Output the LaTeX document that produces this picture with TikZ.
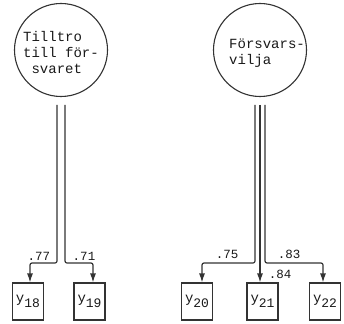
\documentclass[tikz,border=0pt]{standalone}
\usepackage{fontspec}
\setmonofont{Liberation Mono}
\usetikzlibrary{arrows.meta}
\begin{document}
\begin{tikzpicture}[x=1pt,y=-1pt,
  ink/.style={draw=black!80, line width=1.1pt},
  latent/.style={circle, ink, minimum size=93pt, inner sep=0pt},
  ltext/.style={font=\ttfamily\fontsize{14}{16}\selectfont, text=black!90, align=left, inner sep=0pt},
  obs/.style={rectangle, ink, minimum width=31pt, minimum height=37pt, inner sep=0pt,
    font=\ttfamily\fontsize{14}{16}\selectfont, text=black!90},
  conn/.style={draw=black!80, line width=1.2pt, rounded corners=2pt, -{Latex[length=9pt,width=6pt]}},
  lbl/.style={font=\ttfamily\fontsize{12.5}{14}\selectfont, text=black!90, inner sep=0pt}]
\useasboundingbox (0,0) rectangle (344,323);
% latent variables
\node[latent] (F1) at (61,50) {};
\node[ltext] (F1t) at (61,52) {Tilltro\\till för-\\\hspace*{0.6em}svaret};
\node[latent] (F2) at (260,50) {};
\node[ltext] (F2t) at (267,53) {Försvars-\\vilja};
% observed variables
\node[obs] (Y18) at (28,301.5) {y\raisebox{-5pt}{\fontsize{13}{13}\selectfont 18}};
\node[obs] (Y19) at (89.5,301.5) {y\raisebox{-5pt}{\fontsize{13}{13}\selectfont 19}};
\node[obs] (Y20) at (197,301.5) {y\raisebox{-5pt}{\fontsize{13}{13}\selectfont 20}};
\node[obs] (Y21) at (262.5,301.5) {y\raisebox{-5pt}{\fontsize{13}{13}\selectfont 21}};
\node[obs] (Y22) at (325,301.5) {y\raisebox{-5pt}{\fontsize{13}{13}\selectfont 22}};
% start and bend points
\coordinate (a18) at (57,105);
\coordinate (a19) at (65,105);
\coordinate (a20) at (255,105);
\coordinate (a21) at (260,105);
\coordinate (a22) at (265,105);
\coordinate (b18) at (30,263);
\coordinate (b19) at (93,263);
\coordinate (b20) at (202,263);
\coordinate (b22) at (323,263);
% connectors
\draw[conn] (a18) |- (b18) -- (b18 |- Y18.north);
\draw[conn] (a19) |- (b19) -- (b19 |- Y19.north);
\draw[conn] (a20) |- (b20) -- (b20 |- Y20.north);
\draw[conn] (a21) -- (a21 |- Y21.north);
\draw[conn] (a22) |- (b22) -- (b22 |- Y22.north);
% loadings
\node[lbl] (l18) at (39,256) {.77};
\node[lbl] (l19) at (84,256) {.71};
\node[lbl] (l20) at (227,254) {.75};
\node[lbl] (l22) at (289,254) {.83};
\node[lbl] (l21) at (280,274) {.84};
\end{tikzpicture}
\end{document}
